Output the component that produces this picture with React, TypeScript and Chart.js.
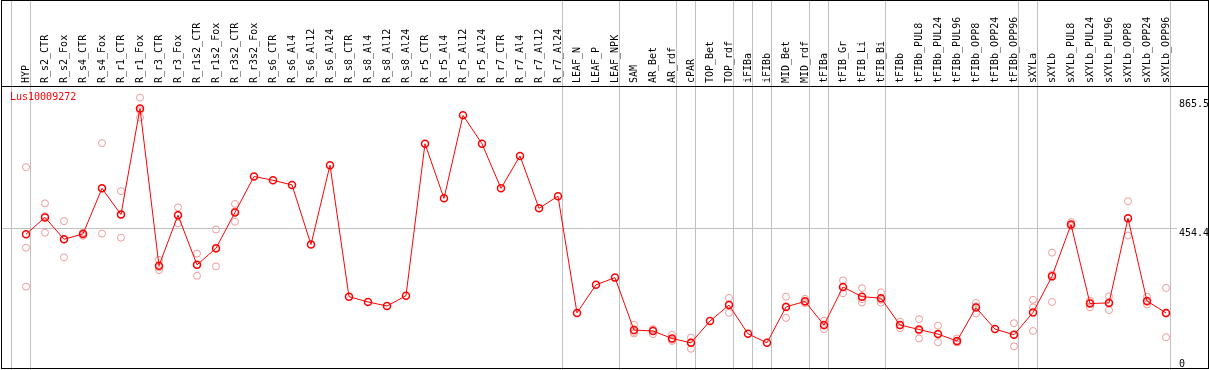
import React, { useEffect, useRef } from 'react';
import { Chart, registerables } from 'chart.js';

Chart.register(...registerables);

const GENE = 'Lus10009272';

const CATEGORIES = [
  'HYP', 'R_s2_CTR', 'R_s2_Fox', 'R_s4_CTR', 'R_s4_Fox', 'R_r1_CTR', 'R_r1_Fox', 'R_r3_CTR', 'R_r3_Fox',
  'R_r1s2_CTR', 'R_r1s2_Fox', 'R_r3s2_CTR', 'R_r3s2_Fox', 'R_s6_CTR', 'R_s6_Al4', 'R_s6_Al12', 'R_s6_Al24',
  'R_s8_CTR', 'R_s8_Al4', 'R_s8_Al12', 'R_s8_Al24', 'R_r5_CTR', 'R_r5_Al4', 'R_r5_Al12', 'R_r5_Al24',
  'R_r7_CTR', 'R_r7_Al4', 'R_r7_Al12', 'R_r7_Al24', 'LEAF_N', 'LEAF_P', 'LEAF_NPK', 'SAM', 'AR_Bet', 'AR_rdf',
  'cPAR', 'TOP_Bet', 'TOP_rdf', 'iFIBa', 'iFIBb', 'MID_Bet', 'MID_rdf', 'tFIBa', 'tFIB_Gr', 'tFIB_Li', 'tFIB_Bi',
  'tFIBb', 'tFIBb_PUL8', 'tFIBb_PUL24', 'tFIBb_PUL96', 'tFIBb_OPP8', 'tFIBb_OPP24', 'tFIBb_OPP96',
  'sXYLa', 'sXYLb', 'sXYLb_PUL8', 'sXYLb_PUL24', 'sXYLb_PUL96', 'sXYLb_OPP8', 'sXYLb_OPP24', 'sXYLb_OPP96',
];

// group sizes (vertical separator after each group)
const GROUP_SIZES = [1, 28, 3, 3, 1, 2, 1, 1, 2, 1, 3, 7, 1, 7];

const MEAN = [
  435, 489, 419, 436, 582, 498, 838, 334, 496,
  337, 390, 505, 620, 608, 593, 402, 656,
  235, 218, 205, 238, 725, 550, 816, 725,
  582, 686, 518, 557, 183, 273, 296, 128, 125, 101,
  87, 157, 208, 116, 87, 202, 220, 144, 266, 235, 230,
  144, 130, 115, 93, 200, 131, 113,
  184, 300, 466, 213, 215, 486, 221, 183,
];

const REP1 = [
  650, 534, 477, 430, 727, 573, 873, 353, 521,
  373, 450, 532, null, null, null, null, null,
  null, null, null, null, null, null, null, null,
  null, null, null, null, null, null, null, 145, 131, 113,
  104, null, 231, null, null, 235, 228, 158, 287, 262, 249,
  155, 163, 142, 101, 215, null, 150,
  225, 376, 474, 222, 236, 541, 235, 263,
];

const REP2 = [
  392, 440, 361, 440, 437, 424, 809, 320, 470,
  302, 332, 475, null, null, null, null, null,
  null, null, null, null, null, null, null, null,
  null, null, null, null, null, null, null, 117, 115, 93,
  68, null, 183, null, null, 167, 214, 131, 246, 216, 216,
  134, 101, 89, 88, 181, null, 76,
  201, 218, 462, 201, 192, 431, 210, 105,
];

const REP3 = [
  267, 493, 419, 438, 582, 497, 832, 329, 497,
  336, 388, 508, null, null, null, null, null,
  null, null, null, null, null, null, null, null,
  null, null, null, null, null, null, null, 122, 129, 97,
  89, null, 210, null, null, 204, 218, 143, 265, 227, 225,
  143, 126, 114, 90, 204, null, 113,
  125, 306, 462, 216, 217, 486, 218, 181,
];

const Y_TICKS = [0, 454.4, 865.5];
const Y_MAX = 910;
const X_MIN = -1.263;
const X_MAX = 60.579;

const FONT = "'DejaVu Sans Mono', monospace";

const toPoints = (arr: (number | null)[]) =>
  arr.map((v, i) => ({ x: i, y: v })).filter((p) => p.y !== null);

const overlayPlugin = {
  id: 'overlay',
  beforeDatasetsDraw(chart: any) {
    const { ctx, chartArea } = chart;
    const xs = chart.scales.x;
    ctx.save();
    ctx.strokeStyle = '#c0c0c0';
    ctx.lineWidth = 1;
    const bounds: number[] = [-1];
    let b = -1;
    for (const s of GROUP_SIZES) {
      b += s;
      bounds.push(b);
    }
    for (const bd of bounds) {
      const px = Math.floor(xs.getPixelForValue(bd + 0.237)) + 0.5;
      ctx.beginPath();
      ctx.moveTo(px, 0);
      ctx.lineTo(px, chartArea.bottom);
      ctx.stroke();
    }
    ctx.restore();
  },
  afterDraw(chart: any) {
    const { ctx, chartArea } = chart;
    const ys = chart.scales.y;
    ctx.save();
    // frame
    ctx.strokeStyle = '#000';
    ctx.lineWidth = 1;
    ctx.beginPath();
    ctx.moveTo(1.5, 0);
    ctx.lineTo(1.5, 369);
    ctx.moveTo(1208.5, 0);
    ctx.lineTo(1208.5, 369);
    ctx.moveTo(1, 0.5);
    ctx.lineTo(1209, 0.5);
    ctx.moveTo(1, 368.5);
    ctx.lineTo(1209, 368.5);
    ctx.moveTo(1, 86.5);
    ctx.lineTo(1209, 86.5);
    ctx.stroke();
    // gene name
    ctx.fillStyle = '#ff0000';
    ctx.font = `10px ${FONT}`;
    ctx.textAlign = 'left';
    ctx.textBaseline = 'middle';
    ctx.fillText(GENE, 10, 97);
    // y labels
    ctx.fillStyle = '#000';
    ctx.textBaseline = 'top';
    for (const v of Y_TICKS) {
      const py = Math.min(ys.getPixelForValue(v), chartArea.bottom - 11);
      ctx.fillText(String(v), 1179, py);
    }
    ctx.restore();
  },
};

export default function App() {
  const ref = useRef<HTMLCanvasElement | null>(null);

  useEffect(() => {
    document.body.style.margin = '0';
    const canvas = ref.current;
    if (!canvas) return;
    const repStyle = {
      showLine: false,
      pointRadius: 3.5,
      pointBorderWidth: 1,
      pointBorderColor: '#ee9a9a',
      pointBackgroundColor: 'rgba(0,0,0,0)',
    };
    const chart = new Chart(canvas, {
      type: 'line',
      data: {
        datasets: [
          {
            data: toPoints(MEAN),
            borderColor: '#ff0000',
            borderWidth: 1,
            pointRadius: 3.5,
            pointBorderWidth: 1.5,
            pointBorderColor: '#ff0000',
            pointBackgroundColor: 'rgba(0,0,0,0)',
            showLine: true,
            tension: 0,
          },
          { data: toPoints(REP1), ...repStyle },
          { data: toPoints(REP2), ...repStyle },
          { data: toPoints(REP3), ...repStyle },
        ],
      },
      options: {
        responsive: false,
        animation: false,
        devicePixelRatio: 1,
        layout: { autoPadding: false, padding: { left: 2, right: 0, top: 0, bottom: 0 } },
        plugins: { legend: { display: false }, tooltip: { enabled: false }, title: { display: false } },
        scales: {
          x: {
            type: 'linear',
            position: 'top',
            min: X_MIN,
            max: X_MAX,
            grid: { display: false, drawTicks: false, tickLength: 0 },
            border: { display: false },
            afterBuildTicks: (axis: any) => {
              axis.ticks = CATEGORIES.map((_, i) => ({ value: i }));
            },
            afterFit: (axis: any) => {
              axis.height = 86;
            },
            ticks: {
              autoSkip: false,
              minRotation: 90,
              maxRotation: 90,
              padding: 3,
              labelOffset: 12,
              color: '#000',
              font: { family: FONT, size: 10 },
              callback: (v: any) => CATEGORIES[v] ?? '',
            },
          },
          y: {
            type: 'linear',
            position: 'right',
            min: 0,
            max: Y_MAX,
            border: { display: false },
            afterBuildTicks: (axis: any) => {
              axis.ticks = Y_TICKS.map((v) => ({ value: v }));
            },
            afterFit: (axis: any) => {
              axis.width = 32;
            },
            grid: {
              drawTicks: false,
              color: (c: any) => (c.tick && c.tick.value === 454.4 ? '#c0c0c0' : 'rgba(0,0,0,0)'),
            },
            ticks: { display: false },
          },
        },
      },
      plugins: [overlayPlugin],
    });
    return () => chart.destroy();
  }, []);

  return <canvas ref={ref} width={1209} height={370} style={{ display: 'block' }} />;
}
